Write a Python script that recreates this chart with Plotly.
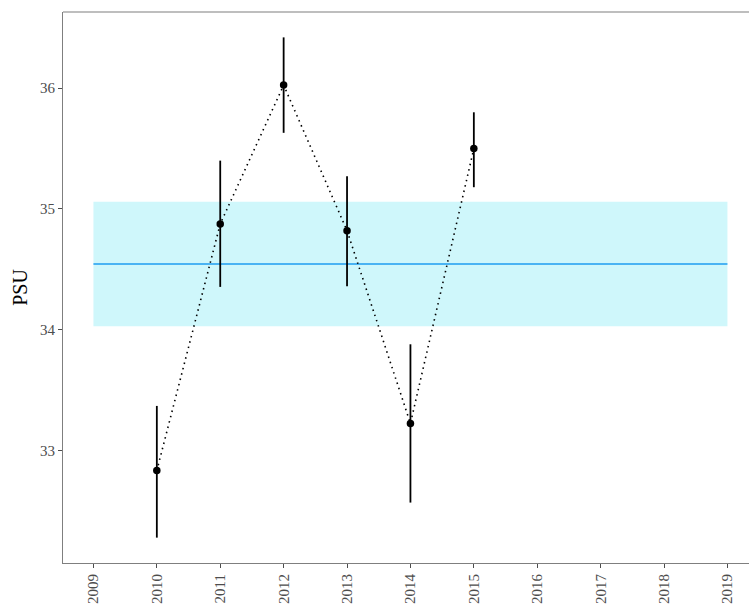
import plotly.graph_objects as go

# Annual mean salinity with uncertainty range
years = [2010, 2011, 2012, 2013, 2014, 2015]
psu_mean = [32.835, 34.876, 36.025, 34.82, 33.225, 35.50]
psu_low = [32.28, 34.355, 35.63, 34.36, 32.57, 35.18]
psu_high = [33.37, 35.40, 36.42, 35.27, 33.88, 35.80]

# Long-term reference band
band_years = [2009, 2019]
band_mean = 34.545
band_low = 34.03
band_high = 35.06

tick_years = list(range(2009, 2020))

err_plus = [h - m for h, m in zip(psu_high, psu_mean)]
err_minus = [m - l for m, l in zip(psu_mean, psu_low)]

fig = go.Figure()

fig.add_trace(go.Scatter(
    x=[band_years[0], band_years[1], band_years[1], band_years[0], band_years[0]],
    y=[band_low, band_low, band_high, band_high, band_low],
    fill="toself", fillcolor="rgba(207,247,251,1)",
    line=dict(width=0), mode="lines", hoverinfo="skip", showlegend=False,
))
fig.add_trace(go.Scatter(
    x=band_years, y=[band_mean, band_mean], mode="lines",
    line=dict(color="#1E9CF0", width=1.6), showlegend=False,
))
fig.add_trace(go.Scatter(
    x=years, y=psu_mean, mode="lines",
    line=dict(color="black", width=1.6, dash="1.5px,4px"), showlegend=False,
))
fig.add_trace(go.Scatter(
    x=years, y=psu_mean, mode="markers",
    marker=dict(color="black", size=7.5),
    error_y=dict(type="data", symmetric=False, array=err_plus,
                 arrayminus=err_minus, color="black", thickness=1.8, width=0),
    showlegend=False,
))

tick_font = dict(family="Liberation Serif", size=15, color="#4d4d4d")

fig.update_layout(
    width=749, height=606,
    margin=dict(l=63, r=0, t=12, b=43),
    plot_bgcolor="white", paper_bgcolor="white",
    xaxis=dict(
        range=[2008.52, 2019.34], tickmode="array", tickvals=tick_years,
        ticktext=[str(y) for y in tick_years], tickangle=-90,
        showgrid=False, zeroline=False, showline=True,
        linecolor="#7f7f7f", linewidth=1.2,
        ticks="outside", ticklen=4, tickcolor="#4d4d4d", tickwidth=1,
        tickfont=tick_font,
    ),
    yaxis=dict(
        range=[32.07, 36.63], tickmode="array", tickvals=[33, 34, 35, 36],
        showgrid=False, zeroline=False, showline=True,
        linecolor="#7f7f7f", linewidth=1.2,
        ticks="outside", ticklen=4, tickcolor="#4d4d4d", tickwidth=1,
        tickfont=tick_font,
        title=dict(text="PSU", font=dict(family="Liberation Serif", size=20,
                                         color="black"), standoff=6),
    ),
    shapes=[dict(type="line", xref="paper", yref="paper", x0=0, x1=1,
                 y0=1, y1=1, line=dict(color="#7f7f7f", width=1.2))],
)

fig.write_html("out.html")
